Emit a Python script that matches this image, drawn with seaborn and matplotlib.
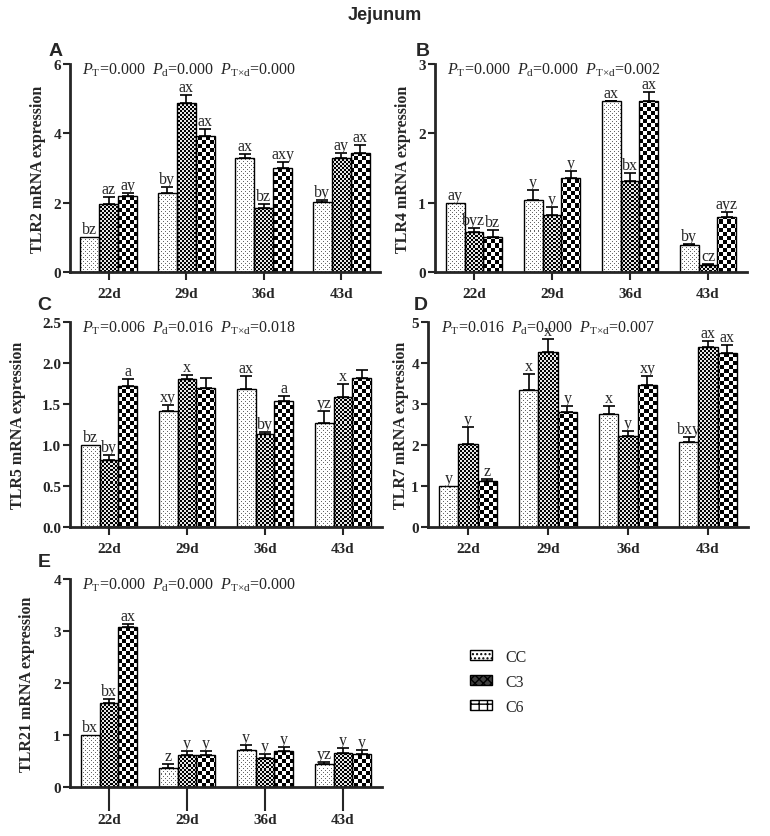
import numpy as np
import pandas as pd
import matplotlib
matplotlib.use('Agg')
import matplotlib.pyplot as plt
import seaborn as sns
from matplotlib.patches import Patch

days = ['22d', '29d', '36d', '43d']
groups = ['CC', 'C3', 'C6']

# rows: CC, C3, C6 ; columns: 22d, 29d, 36d, 43d
tlr2_mean = [[1.00, 2.27, 3.28, 2.01],
             [1.96, 4.87, 1.84, 3.30],
             [2.18, 3.91, 2.99, 3.42]]
tlr2_se = [[0.00, 0.19, 0.11, 0.08],
           [0.19, 0.24, 0.12, 0.12],
           [0.11, 0.21, 0.19, 0.25]]
tlr2_letters = [['bz', 'by', 'ax', 'by'],
                ['az', 'ax', 'bz', 'ay'],
                ['ay', 'ax', 'axy', 'ax']]
tlr2_p = ['0.000', '0.000', '0.000']

tlr4_mean = [[1.00, 1.04, 2.46, 0.385],
             [0.58, 0.82, 1.31, 0.10],
             [0.51, 1.36, 2.47, 0.80]]
tlr4_se = [[0.00, 0.14, 0.01, 0.025],
           [0.05, 0.12, 0.12, 0.01],
           [0.10, 0.09, 0.13, 0.06]]
tlr4_letters = [['ay', 'y', 'ax', 'by'],
                ['byz', 'y', 'bx', 'cz'],
                ['bz', 'y', 'ax', 'ayz']]
tlr4_p = ['0.000', '0.000', '0.002']

tlr5_mean = [[1.00, 1.41, 1.68, 1.27],
             [0.82, 1.80, 1.14, 1.59],
             [1.72, 1.69, 1.54, 1.82]]
tlr5_se = [[0.00, 0.08, 0.16, 0.14],
           [0.06, 0.05, 0.02, 0.15],
           [0.09, 0.13, 0.06, 0.10]]
tlr5_letters = [['bz', 'xy', 'ax', 'yz'],
                ['by', 'x', 'by', 'x'],
                ['a', '', 'a', '']]
tlr5_p = ['0.006', '0.016', '0.018']

tlr7_mean = [[1.00, 3.35, 2.76, 2.08],
             [2.02, 4.28, 2.21, 4.38],
             [1.11, 2.80, 3.47, 4.25]]
tlr7_se = [[0.00, 0.38, 0.20, 0.12],
           [0.41, 0.30, 0.14, 0.16],
           [0.06, 0.16, 0.22, 0.18]]
tlr7_letters = [['y', 'x', 'x', 'bxy'],
                ['y', 'x', 'y', 'ax'],
                ['z', 'y', 'xy', 'ax']]
tlr7_p = ['0.016', '0.000', '0.007']

tlr21_mean = [[1.00, 0.37, 0.72, 0.45],
              [1.62, 0.62, 0.56, 0.65],
              [3.07, 0.62, 0.69, 0.63]]
tlr21_se = [[0.00, 0.08, 0.08, 0.03],
            [0.08, 0.08, 0.08, 0.10],
            [0.07, 0.08, 0.08, 0.09]]
tlr21_letters = [['bx', 'z', 'y', 'yz'],
                 ['bx', 'y', 'y', 'y'],
                 ['ax', 'y', 'y', 'y']]
tlr21_p = ['0.000', '0.000', '0.000']

W, H = 770, 837
sns.set_style('ticks')
plt.rcParams['font.family'] = ['Liberation Serif', 'DejaVu Serif']
plt.rcParams['mathtext.fontset'] = 'custom'
plt.rcParams['mathtext.rm'] = 'Liberation Serif'
plt.rcParams['mathtext.it'] = 'Liberation Serif:italic'
plt.rcParams['mathtext.bf'] = 'Liberation Serif:bold'

fig = plt.figure(figsize=(W / 100, H / 100), dpi=100)


def box(left, top, right, bottom):
    return [left / W, 1 - bottom / H, (right - left) / W, (bottom - top) / H]


def texture(kind, h, w):
    i, j = np.mgrid[0:h, 0:w]
    if kind == 0:
        t = np.ones((h, w))
        t[((i % 4 == 1) & (j % 4 == 1)) | ((i % 4 == 3) & (j % 4 == 3))] = 0.4
    elif kind == 1:
        t = ((i // 2 + j // 2) % 2) * 0.9
    else:
        t = ((i // 4 + j // 4) % 2) * 1.0
    return t


panels = [
    ('A', 'TLR2', tlr2_mean, tlr2_se, tlr2_letters, tlr2_p, 6, 2, box(70, 65, 380, 273), -24, 6),
    ('B', 'TLR4', tlr4_mean, tlr4_se, tlr4_letters, tlr4_p, 3, 1, box(435, 65, 747, 273), -24, 6),
    ('C', 'TLR5', tlr5_mean, tlr5_se, tlr5_letters, tlr5_p, 2.5, 0.5, box(70, 323, 382, 528), -44, 6),
    ('D', 'TLR7', tlr7_mean, tlr7_se, tlr7_letters, tlr7_p, 5, 1, box(428, 323, 748, 528), -19, 6),
    ('E', 'TLR21', tlr21_mean, tlr21_se, tlr21_letters, tlr21_p, 4, 1, box(70, 580, 382, 788), -35, 17),
]
letter_pos = {'A': (56, 52), 'B': (423, 52), 'C': (44, 305), 'D': (421, 305), 'E': (44, 563)}

for tag, gene, mean, se, letters, p, ymax, step, pos, lab_off, xtick_len in panels:
    ax = fig.add_axes(pos)
    df = pd.DataFrame({'day': np.tile(days, 3),
                       'group': np.repeat(groups, 4),
                       'value': np.ravel(mean)})
    sns.barplot(data=df, x='day', y='value', hue='group', order=days,
                hue_order=groups, width=0.73, errorbar=None,
                palette={g: 'white' for g in groups}, edgecolor='black',
                linewidth=1, legend=False, ax=ax)

    bb = ax.get_window_extent()
    w, h = int(round(bb.width)), int(round(bb.height))
    bar_sets = list(ax.containers)
    for k, cont in enumerate(bar_sets):
        tex = texture(k, h, w)
        for j, bar in enumerate(cont):
            bar.set_facecolor('none')
            bar.set_zorder(2)
            im = ax.imshow(tex, extent=(-0.5, 3.5, 0, ymax), aspect='auto',
                           interpolation='nearest', cmap='gray', vmin=0, vmax=1,
                           zorder=1)
            im.set_clip_path(bar)
            xc = bar.get_x() + bar.get_width() / 2
            top = bar.get_height()
            err = se[k][j]
            if err > 0:
                ax.errorbar(xc, top, yerr=[[0], [err]], fmt='none', ecolor='black',
                            elinewidth=1.2, capsize=4, capthick=1.2, zorder=3)
            ax.annotate(letters[k][j], (xc, top + err), xytext=(0, 0),
                        textcoords='offset points', ha='center', va='bottom',
                        fontsize=11.5, zorder=4)

    ax.set_xlim(-0.5, 3.5)
    ax.set_ylim(0, ymax)
    ax.set_yticks(np.arange(0, ymax + step / 2, step))
    ax.set_xlabel('')
    ax.set_ylabel(gene + ' mRNA expression', fontsize=11.5, fontweight='bold')
    ax.yaxis.set_label_coords((lab_off) / (pos[2] * W), 0.5)
    sns.despine(ax=ax)
    for s in ['left', 'bottom']:
        ax.spines[s].set_linewidth(2)
    ax.tick_params(axis='y', length=5, width=1.5, pad=1.5, labelsize=11)
    ax.tick_params(axis='x', length=xtick_len, width=1.5,
                   pad=5 if xtick_len < 10 else 1.5, labelsize=11)
    for lab in ax.get_xticklabels() + ax.get_yticklabels():
        lab.set_fontweight('bold')

    ptxt = (r'$P_{\mathrm{T}}$=' + p[0] + r'  $P_{\mathrm{d}}$=' + p[1]
            + r'  $P_{\mathrm{T{\times}d}}$=' + p[2])
    ax.text(0.04, 0.975, ptxt, transform=ax.transAxes, ha='left', va='center',
            fontsize=11.5)

    lx, ly = letter_pos[tag]
    fig.text(lx / W, 1 - ly / H, tag, ha='center', va='center', fontsize=14,
             fontweight='bold', family='Liberation Sans')

fig.text(0.5, 1 - 16 / H, 'Jejunum', ha='center', va='center', fontsize=13,
         fontweight='bold', family='Liberation Sans')

handles = [Patch(facecolor='white', edgecolor='black', hatch='....', linewidth=1),
           Patch(facecolor='0.25', edgecolor='black', hatch='xxxx', linewidth=1),
           Patch(facecolor='white', edgecolor='black', hatch='++', linewidth=1)]
fig.legend(handles, groups, loc='center left', bbox_to_anchor=(470 / W, 1 - 683 / H),
           frameon=False, prop={'size': 11.5}, handlelength=1.4, handleheight=0.6,
           labelspacing=0.56, handletextpad=0.8, borderpad=0, borderaxespad=0)

fig.savefig('out.png', dpi=100)
